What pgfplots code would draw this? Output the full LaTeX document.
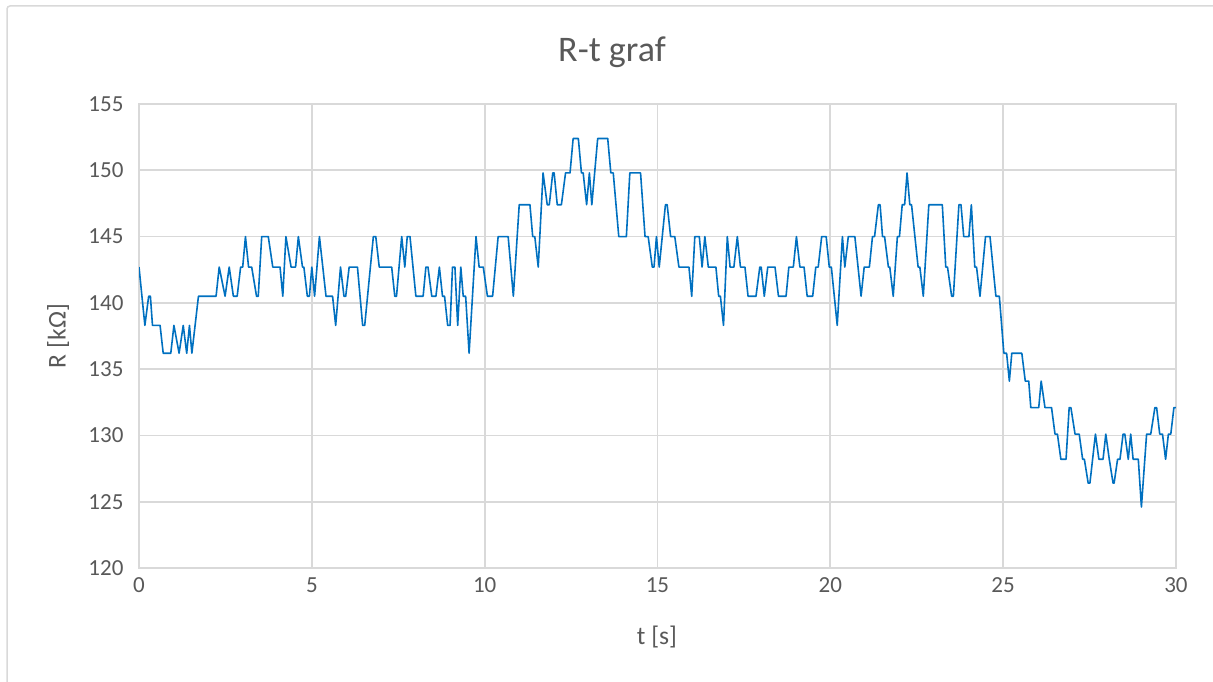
\documentclass[border=0pt]{standalone}
\usepackage{pgfplots}
\pgfplotsset{compat=1.18}
\usepackage{fontspec}
\setmainfont{Carlito}
\definecolor{gridc}{HTML}{D9D9D9}
\definecolor{txt}{HTML}{595959}
\definecolor{linec}{HTML}{0070C0}
\begin{document}
\begin{tikzpicture}
\useasboundingbox (0,0) rectangle (1213pt,682pt);
\draw[gridc, line width=1.5pt, rounded corners=3pt] (7pt,0pt) -- (7pt,676pt) -- (1213pt,676pt);
\begin{axis}[at={(139pt,114pt)}, anchor=south west, scale only axis,
  width=1037pt, height=464pt,
  xmin=0, xmax=30, ymin=120, ymax=155,
  xtick={0,5,...,30}, ytick={120,125,...,155},
  grid=major, major grid style={gridc, line width=1.8pt},
  axis line style={gridc, line width=1.8pt},
  tick style={draw=none},
  ticklabel style={font=\fontsize{23}{27}\selectfont, text=txt},
  /pgf/number format/assume math mode=true,
  xticklabel style={yshift=-6pt},
  yticklabel style={xshift=-12pt}]
\addplot[linec, line width=1.6pt, line join=round] coordinates {
(0.00,142.7) (0.17,138.3) (0.28,140.5) (0.33,140.5) (0.39,138.3) (0.61,138.3)
(0.70,136.2) (0.92,136.2) (1.01,138.3) (1.16,136.2) (1.28,138.3) (1.38,136.2)
(1.46,138.3) (1.53,136.2) (1.72,140.5) (2.23,140.5) (2.32,142.7) (2.49,140.5)
(2.61,142.7) (2.73,140.5) (2.84,140.5) (2.94,142.7) (3.00,142.7) (3.08,145.0)
(3.17,142.7) (3.26,142.7) (3.40,140.5) (3.45,140.5) (3.55,145.0) (3.74,145.0)
(3.87,142.7) (4.08,142.7) (4.16,140.5) (4.25,145.0) (4.40,142.7) (4.53,142.7)
(4.61,145.0) (4.73,142.7) (4.77,142.7) (4.87,140.5) (4.93,140.5) (5.00,142.7)
(5.08,140.5) (5.22,145.0) (5.41,140.5) (5.60,140.5) (5.69,138.3) (5.83,142.7)
(5.93,140.5) (5.98,140.5) (6.08,142.7) (6.32,142.7) (6.47,138.3) (6.53,138.3)
(6.78,145.0) (6.85,145.0) (6.95,142.7) (7.31,142.7) (7.40,140.5) (7.45,140.5)
(7.60,145.0) (7.69,142.7) (7.76,145.0) (7.84,145.0) (8.01,140.5) (8.22,140.5)
(8.30,142.7) (8.36,142.7) (8.47,140.5) (8.59,140.5) (8.69,142.7) (8.78,140.5)
(8.84,140.5) (8.93,138.3) (9.00,138.3) (9.07,142.7) (9.14,142.7) (9.22,138.3)
(9.31,142.7) (9.38,140.5) (9.45,140.5) (9.55,136.2) (9.75,145.0) (9.84,142.7)
(9.96,142.7) (10.08,140.5) (10.23,140.5) (10.39,145.0) (10.68,145.0) (10.83,140.5)
(11.00,147.4) (11.31,147.4) (11.39,145.0) (11.45,145.0) (11.55,142.7) (11.69,149.8)
(11.81,147.4) (11.87,147.4) (11.97,149.8) (12.01,149.8) (12.10,147.4) (12.22,147.4)
(12.34,149.8) (12.47,149.8) (12.56,152.4) (12.71,152.4) (12.80,149.8) (12.85,149.8)
(12.95,147.4) (13.03,149.8) (13.10,147.4) (13.27,152.4) (13.56,152.4) (13.65,149.8)
(13.72,149.8) (13.88,145.0) (14.10,145.0) (14.20,149.8) (14.51,149.8) (14.64,145.0)
(14.73,145.0) (14.85,142.7) (14.90,142.7) (14.97,145.0) (15.05,142.7) (15.23,147.4)
(15.28,147.4) (15.38,145.0) (15.50,145.0) (15.62,142.7) (15.91,142.7) (15.99,140.5)
(16.08,145.0) (16.21,145.0) (16.29,142.7) (16.37,145.0) (16.47,142.7) (16.69,142.7)
(16.77,140.5) (16.82,140.5) (16.91,138.3) (17.02,145.0) (17.10,142.7) (17.21,142.7)
(17.31,145.0) (17.40,142.7) (17.53,142.7) (17.62,140.5) (17.85,140.5) (17.96,142.7)
(18.00,142.7) (18.09,140.5) (18.19,142.7) (18.40,142.7) (18.50,140.5) (18.72,140.5)
(18.80,142.7) (18.93,142.7) (19.02,145.0) (19.12,142.7) (19.24,142.7) (19.33,140.5)
(19.49,140.5) (19.58,142.7) (19.65,142.7) (19.75,145.0) (19.88,145.0) (19.97,142.7)
(20.03,142.7) (20.20,138.3) (20.35,145.0) (20.42,142.7) (20.52,145.0) (20.71,145.0)
(20.89,140.5) (20.98,142.7) (21.13,142.7) (21.22,145.0) (21.28,145.0) (21.39,147.4)
(21.44,147.4) (21.51,145.0) (21.57,145.0) (21.68,142.7) (21.72,142.7) (21.82,140.5)
(21.94,145.0) (22.00,145.0) (22.08,147.4) (22.15,147.4) (22.22,149.8) (22.30,147.4)
(22.35,147.4) (22.54,142.7) (22.59,142.7) (22.69,140.5) (22.85,147.4) (23.24,147.4)
(23.34,142.7) (23.39,142.7) (23.51,140.5) (23.56,140.5) (23.72,147.4) (23.78,147.4)
(23.86,145.0) (24.01,145.0) (24.08,147.4) (24.18,142.7) (24.23,142.7) (24.33,140.5)
(24.49,145.0) (24.62,145.0) (24.79,140.5) (24.89,140.5) (25.02,136.2) (25.10,136.2)
(25.18,134.1) (25.25,136.2) (25.54,136.2) (25.64,134.1) (25.74,134.1) (25.80,132.1)
(26.03,132.1) (26.10,134.1) (26.21,132.1) (26.40,132.1) (26.50,130.1) (26.57,130.1)
(26.67,128.2) (26.82,128.2) (26.91,132.1) (26.96,132.1) (27.08,130.1) (27.20,130.1)
(27.30,128.2) (27.35,128.2) (27.46,126.4) (27.51,126.4) (27.67,130.1) (27.77,128.2)
(27.89,128.2) (27.97,130.1) (28.07,128.2) (28.18,126.4) (28.21,126.4) (28.31,128.2)
(28.38,128.2) (28.47,130.1) (28.52,130.1) (28.62,128.2) (28.69,130.1) (28.76,128.2)
(28.91,128.2) (29.00,124.6) (29.15,130.1) (29.27,130.1) (29.39,132.1) (29.44,132.1)
(29.53,130.1) (29.61,130.1) (29.70,128.2) (29.78,130.1) (29.85,130.1) (29.94,132.1)
(30.00,132.1)
};
\end{axis}
\node[txt, font=\fontsize{36}{43}\selectfont] at (612pt,630pt) {R-t graf};
\node[txt, font=\fontsize{25.6}{30}\selectfont] at (657pt,45pt) {t [s]};
\node[txt, font=\fontsize{25.6}{30}\selectfont, rotate=90] at (58pt,346pt) {R [kΩ]};
\end{tikzpicture}
\end{document}
